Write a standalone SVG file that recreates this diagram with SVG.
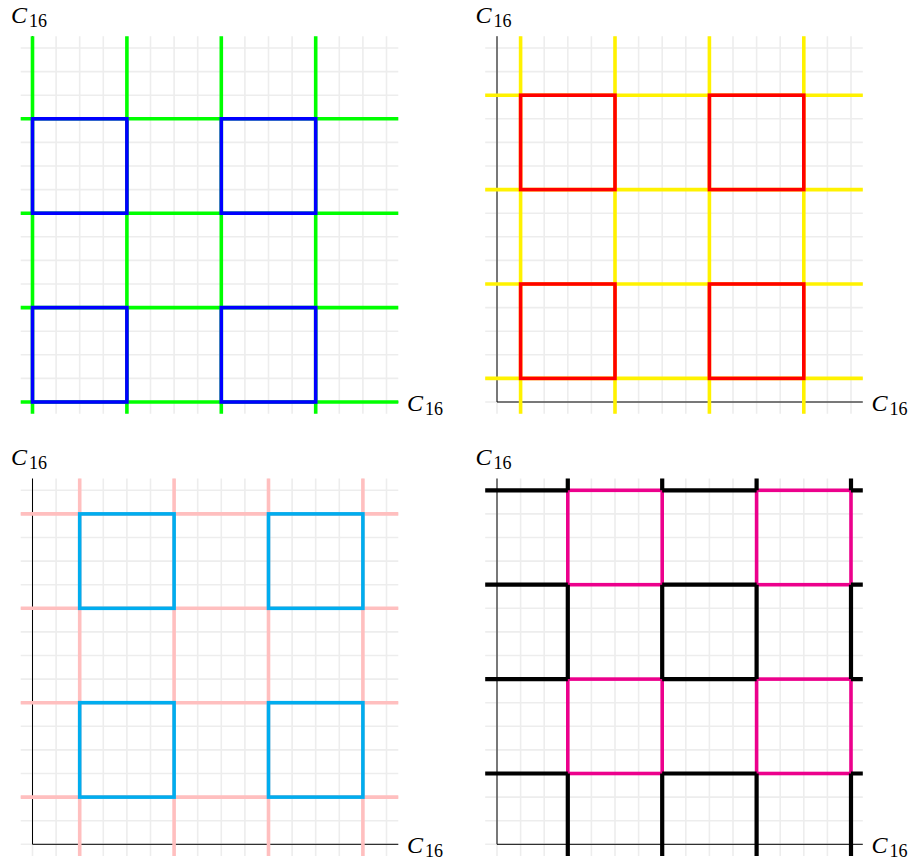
<svg xmlns="http://www.w3.org/2000/svg" xmlns:xlink="http://www.w3.org/1999/xlink" width="916" height="860" viewBox="0 0 916 860">
<style>
.grid{fill:none;stroke:#ededed;stroke-width:1.6}
.axis{fill:none;stroke:#000;stroke-width:1}
.lat{fill:none;stroke-width:3.6;stroke-linecap:butt}
.sq{fill:none;stroke-width:3.6;stroke-linejoin:miter}
.blk{fill:none;stroke:#000;stroke-width:4.2;stroke-linecap:butt}
</style>
<defs>
<path id="grid" class="grid" d="M0 11.8V-365.8M23.6 11.8V-365.8M47.2 11.8V-365.8M70.8 11.8V-365.8M94.4 11.8V-365.8M118 11.8V-365.8M141.6 11.8V-365.8M165.2 11.8V-365.8M188.8 11.8V-365.8M212.4 11.8V-365.8M236 11.8V-365.8M259.6 11.8V-365.8M283.2 11.8V-365.8M306.8 11.8V-365.8M330.4 11.8V-365.8M354 11.8V-365.8M-11.8 0H365.8M-11.8 -23.6H365.8M-11.8 -47.2H365.8M-11.8 -70.8H365.8M-11.8 -94.4H365.8M-11.8 -118H365.8M-11.8 -141.6H365.8M-11.8 -165.2H365.8M-11.8 -188.8H365.8M-11.8 -212.4H365.8M-11.8 -236H365.8M-11.8 -259.6H365.8M-11.8 -283.2H365.8M-11.8 -306.8H365.8M-11.8 -330.4H365.8M-11.8 -354H365.8"/>
<path id="axes" class="axis" d="M0 0V-365.8M0 0H365.8"/>
</defs>

<g id="panel1" transform="translate(32.5,402)">
<use xlink:href="#grid"/>
<use xlink:href="#axes"/>
<path class="lat" stroke="#00ff00" d="M0 11.8V-365.8M94.4 11.8V-365.8M188.8 11.8V-365.8M283.2 11.8V-365.8M-11.8 0H365.8M-11.8 -94.4H365.8M-11.8 -188.8H365.8M-11.8 -283.2H365.8"/>
<g class="sq" stroke="#0000ff">
<rect x="0" y="-283.2" width="94.4" height="94.4"/>
<rect x="188.8" y="-283.2" width="94.4" height="94.4"/>
<rect x="0" y="-94.4" width="94.4" height="94.4"/>
<rect x="188.8" y="-94.4" width="94.4" height="94.4"/>
</g>
</g>

<g id="panel2" transform="translate(497,402)">
<use xlink:href="#grid"/>
<use xlink:href="#axes"/>
<path class="lat" stroke="#fff200" d="M23.6 11.8V-365.8M118 11.8V-365.8M212.4 11.8V-365.8M306.8 11.8V-365.8M-11.8 -23.6H365.8M-11.8 -118H365.8M-11.8 -212.4H365.8M-11.8 -306.8H365.8"/>
<g class="sq" stroke="#ff0000">
<rect x="23.6" y="-306.8" width="94.4" height="94.4"/>
<rect x="212.4" y="-306.8" width="94.4" height="94.4"/>
<rect x="23.6" y="-118" width="94.4" height="94.4"/>
<rect x="212.4" y="-118" width="94.4" height="94.4"/>
</g>
</g>

<g id="panel3" transform="translate(32.5,844.3)">
<use xlink:href="#grid"/>
<use xlink:href="#axes"/>
<path class="lat" stroke="#ffbfbf" d="M47.2 11.8V-365.8M141.6 11.8V-365.8M236 11.8V-365.8M330.4 11.8V-365.8M-11.8 -47.2H365.8M-11.8 -141.6H365.8M-11.8 -236H365.8M-11.8 -330.4H365.8"/>
<g class="sq" stroke="#00adef">
<rect x="47.2" y="-330.4" width="94.4" height="94.4"/>
<rect x="236" y="-330.4" width="94.4" height="94.4"/>
<rect x="47.2" y="-141.6" width="94.4" height="94.4"/>
<rect x="236" y="-141.6" width="94.4" height="94.4"/>
</g>
</g>

<g id="panel4" transform="translate(497,844.3)">
<use xlink:href="#grid"/>
<use xlink:href="#axes"/>
<g class="sq" stroke="#ec008c">
<rect x="70.8" y="-354" width="94.4" height="94.4"/>
<rect x="259.6" y="-354" width="94.4" height="94.4"/>
<rect x="70.8" y="-165.2" width="94.4" height="94.4"/>
<rect x="259.6" y="-165.2" width="94.4" height="94.4"/>
</g>
<path class="blk" d="M70.8 11.8V-70.8M70.8 -165.2V-259.6M70.8 -354V-365.8M165.2 11.8V-70.8M165.2 -165.2V-259.6M165.2 -354V-365.8M259.6 11.8V-70.8M259.6 -165.2V-259.6M259.6 -354V-365.8M354 11.8V-70.8M354 -165.2V-259.6M354 -354V-365.8M-11.8 -70.8H70.8M165.2 -70.8H259.6M354 -70.8H365.8M-11.8 -165.2H70.8M165.2 -165.2H259.6M354 -165.2H365.8M-11.8 -259.6H70.8M165.2 -259.6H259.6M354 -259.6H365.8M-11.8 -354H70.8M165.2 -354H259.6M354 -354H365.8"/>
</g>

<g id="labels" font-family="'Liberation Serif','DejaVu Serif',serif" font-size="24" fill="#000">
<text x="11" y="23"><tspan font-style="italic">C</tspan><tspan font-size="18" dx="2" dy="4">16</tspan></text>
<text x="407" y="411"><tspan font-style="italic">C</tspan><tspan font-size="18" dx="2" dy="4">16</tspan></text>
<text x="475.5" y="23"><tspan font-style="italic">C</tspan><tspan font-size="18" dx="2" dy="4">16</tspan></text>
<text x="871.5" y="411"><tspan font-style="italic">C</tspan><tspan font-size="18" dx="2" dy="4">16</tspan></text>
<text x="11" y="465.3"><tspan font-style="italic">C</tspan><tspan font-size="18" dx="2" dy="4">16</tspan></text>
<text x="407" y="853.3"><tspan font-style="italic">C</tspan><tspan font-size="18" dx="2" dy="4">16</tspan></text>
<text x="475.5" y="465.3"><tspan font-style="italic">C</tspan><tspan font-size="18" dx="2" dy="4">16</tspan></text>
<text x="871.5" y="853.3"><tspan font-style="italic">C</tspan><tspan font-size="18" dx="2" dy="4">16</tspan></text>
</g>
</svg>
